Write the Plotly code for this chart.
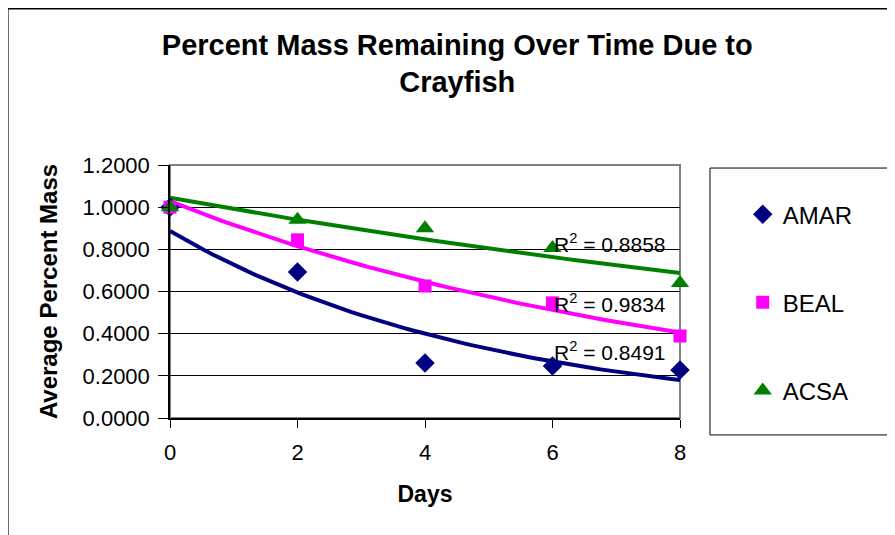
import numpy as np
import plotly.graph_objects as go

#========================================================
# data
days = [0, 2, 4, 6, 8]
amar = [1.0, 0.692, 0.261, 0.247, 0.228]
beal = [1.0, 0.845, 0.626, 0.546, 0.389]
acsa = [1.0, 0.94, 0.90, 0.806, 0.64]

r2_labels = {'AMAR': '0.8491', 'BEAL': '0.9834', 'ACSA': '0.8858'}

series = [
    ('AMAR', amar, '#000080', 'diamond', 15),
    ('BEAL', beal, '#FF00FF', 'square', 13),
    ('ACSA', acsa, '#008000', 'triangle-up', 16),
]

FONT = 'Liberation Sans, Arial, sans-serif'

#========================================================
def exp_trend(x, y):
    # excel style exponential trendline: y = a*exp(b*x)
    b, ln_a = np.polyfit(x, np.log(y), 1)
    xs = np.linspace(min(x), max(x), 60)
    return xs, np.exp(ln_a) * np.exp(b * xs)


fig = go.Figure()

for name, vals, color, symbol, size in series:
    xs, ys = exp_trend(days, vals)
    fig.add_trace(go.Scatter(x=xs, y=ys, mode='lines', line=dict(color=color, width=4),
                             showlegend=False, hoverinfo='skip'))

for name, vals, color, symbol, size in series:
    fig.add_trace(go.Scatter(x=days, y=vals, mode='markers', name=name, legendgroup=name,
                             marker=dict(symbol=symbol, color=color, size=size, line=dict(width=0)),
                             cliponaxis=False))

# R^2 labels
r2_pos = {'ACSA': 0.83, 'BEAL': 0.546, 'AMAR': 0.318}
for name, y in r2_pos.items():
    fig.add_annotation(x=5.99, y=y, xref='x', yref='y', xanchor='left', yanchor='middle',
                       text='R<sup>2</sup> = ' + r2_labels[name], showarrow=False,
                       font=dict(family=FONT, size=21, color='black'))

# outer chart border, plot area border, legend box
fig.add_shape(type='rect', xref='paper', yref='paper', x0=-0.318, x1=1.46, y0=-0.6, y1=1.618,
              line=dict(color='black', width=1.5), layer='below')
fig.add_shape(type='rect', xref='paper', yref='paper', x0=0, x1=1, y0=0, y1=1,
              line=dict(color='#808080', width=2), layer='below')
fig.add_shape(type='rect', xref='paper', yref='paper', x0=1.0588, x1=1.46, y0=-0.067, y1=0.988,
              line=dict(color='black', width=1), fillcolor='white', layer='below')

fig.update_layout(
    width=895, height=535,
    margin=dict(l=162, r=223, t=157, b=125),
    paper_bgcolor='white', plot_bgcolor='white',
    font=dict(family=FONT, color='black'),
    title=dict(text='<b>Percent Mass Remaining Over Time Due to<br>Crayfish</b>',
               x=0.502, xanchor='center', y=0.913, yanchor='top',
               font=dict(family=FONT, size=29, color='black')),
    legend=dict(x=1.123, y=0.893, xanchor='left', yanchor='top', tracegroupgap=54,
                font=dict(family=FONT, size=24, color='black'), bgcolor='rgba(0,0,0,0)',
                itemwidth=30),
)

fig.update_xaxes(range=[0, 8], dtick=2, showgrid=False, zeroline=False,
                 showline=True, linecolor='black', linewidth=1.5,
                 ticks='outside', ticklen=8, tickcolor='black', ticklabelstandoff=6,
                 tickfont=dict(family=FONT, size=22),
                 title=dict(text='<b>Days</b>', font=dict(family=FONT, size=23), standoff=22))
fig.update_yaxes(range=[0, 1.2], dtick=0.2, tickformat='.4f', showgrid=True, gridcolor='black',
                 gridwidth=1, zeroline=False, showline=True, linecolor='black', linewidth=1.5,
                 ticks='outside', ticklen=10, tickcolor='black', ticklabelstandoff=4,
                 tickfont=dict(family=FONT, size=22),
                 title=dict(text='<b>Average Percent Mass</b>', font=dict(family=FONT, size=24), standoff=18))

fig.write_html("out.html")
